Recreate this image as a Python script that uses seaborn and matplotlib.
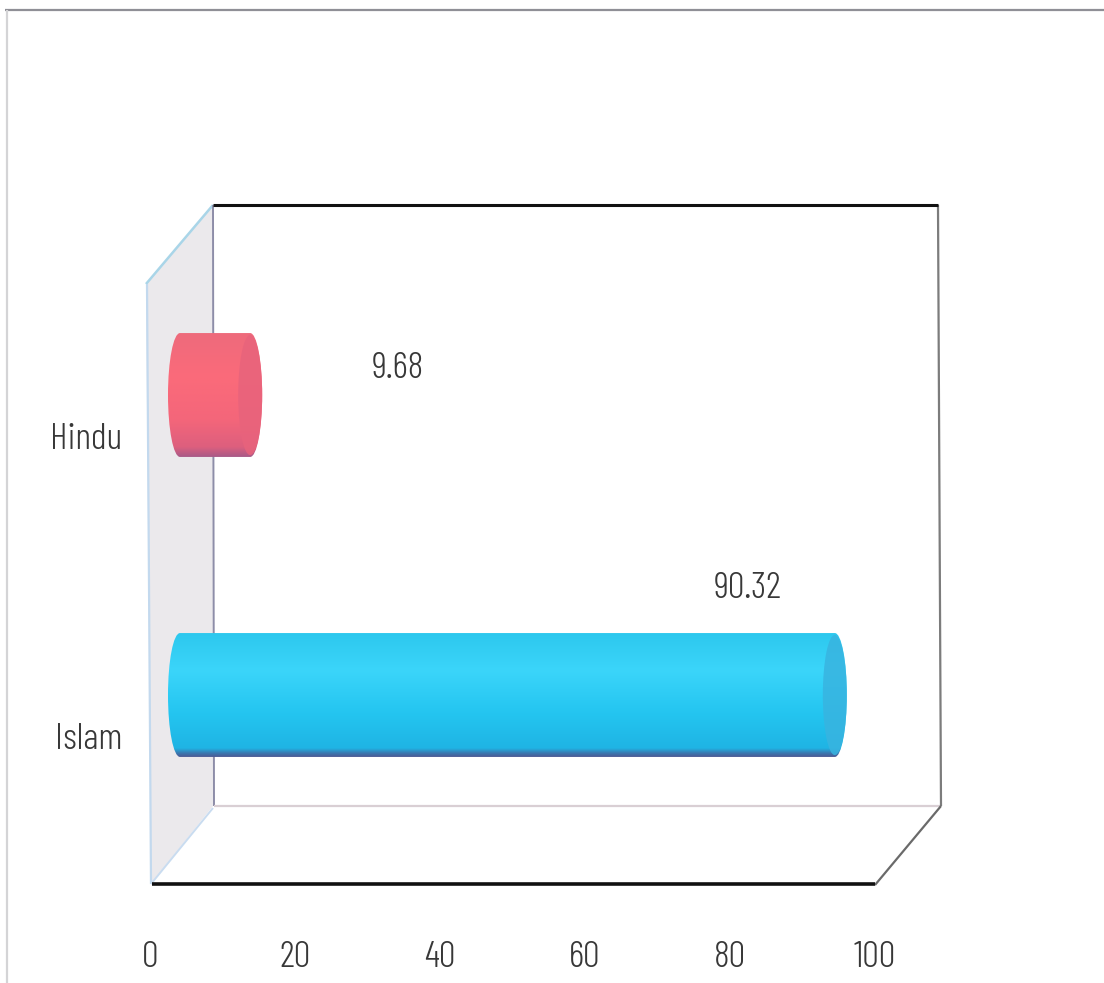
import matplotlib
matplotlib.use("Agg")
import matplotlib.pyplot as plt
import numpy as np
import pandas as pd
import seaborn as sns
from matplotlib.colors import LinearSegmentedColormap
from matplotlib.patches import Ellipse, PathPatch, Polygon
from matplotlib.path import Path
from matplotlib.transforms import ScaledTranslation

religions = ["Hindu", "Islam"]
shares = [9.68, 90.32]
value_ticks = [0, 20, 40, 60, 80, 100]

body_stops = {
    "Hindu": [(0, "#ee6a7c"), (0.35, "#fb6b7a"), (0.7, "#f4667a"), (0.92, "#dd5f7e"), (1, "#a85a88")],
    "Islam": [(0, "#2dc8ee"), (0.3, "#3bd5fa"), (0.65, "#24c5f0"), (0.93, "#1fb4e4"), (0.97, "#3a78b0"), (1, "#4c5a94")],
}
cap_colours = {"Hindu": "#e8637c", "Islam": "#38b4e0"}
label_offsets_px = {"Hindu": (148, -26), "Islam": (-87, -107)}

W, H = 1104, 983
TEXT = "#383838"
LABEL_SIZE = 27

sns.set_theme(style="white")
plt.rcParams["font.family"] = ["Barlow Condensed", "Liberation Sans"]
plt.rcParams["font.weight"] = 300


def px_axes(fig, left, top, right, bottom, zorder):
    a = fig.add_axes([left / W, 1 - bottom / H, (right - left) / W, (bottom - top) / H], zorder=zorder)
    a.patch.set_alpha(0)
    for s in a.spines.values():
        s.set_visible(False)
    return a


fig = plt.figure(figsize=(W / 100, H / 100), dpi=100, facecolor="white")

# Box outline of the pseudo-3D plot area, in pixel units
box = px_axes(fig, 0, 0, W, H, 0)
box.set_xlim(0, W)
box.set_ylim(H, 0)
box.axis("off")
box.add_patch(Polygon([(146, 284), (213, 205), (213, 806), (151, 884)], closed=True,
                      facecolor="#ebe9ec", edgecolor="none"))
segments = [
    ((5, 10), (1104, 10), "#8f8f96", 1.6),
    ((7, 10), (7, 983), "#d4d4d6", 1.6),
    ((146, 284), (213, 205), "#a9d5e8", 1.8),
    ((147, 284), (151, 884), "#c3d9ee", 1.6),
    ((151, 884), (213, 808), "#c9dcf0", 1.4),
    ((213, 205), (214, 806), "#8d8da8", 1.4),
    ((214, 806), (941, 806), "#d9cfd4", 1.6),
    ((938, 205), (941, 806), "#7c7c7c", 1.6),
    ((941, 806), (875, 885), "#6a6a6a", 1.6),
    ((213, 205), (938, 205), "#111111", 2.2),
    ((152, 884), (875, 884), "#111111", 2.6),
]
for (x0, y0), (x1, y1), colour, lw in segments:
    box.plot([x0, x1], [y0, y1], color=colour, lw=lw, solid_capstyle="butt")

# Front plane carries the axis labels
front = px_axes(fig, 150, 283, 875, 883, 1)
front.set_xlim(0, 100)
front.set_ylim(1.5, -0.5)
front.set_xticks(value_ticks)
front.set_xticklabels([str(v) for v in value_ticks])
front.set_yticks(range(len(religions)))
front.set_yticklabels(religions)
front.tick_params(axis="x", length=0, pad=41.5, labelsize=LABEL_SIZE, labelcolor=TEXT)
front.tick_params(axis="y", length=0, pad=20, labelsize=LABEL_SIZE, labelcolor=TEXT)
nudge = ScaledTranslation(0, -3 / 72 * 72 / 100, fig.dpi_scale_trans)
for tick_label in front.get_yticklabels():
    tick_label.set_transform(tick_label.get_transform() + nudge)

# Bars sit half way back in the box; the axis runs a little below zero to leave room for the rounded end
PX_PER_UNIT = 7.25
ORIGIN_PX = 180
LEFT_PX = 150
bars = px_axes(fig, LEFT_PX, 245, ORIGIN_PX + 100 * PX_PER_UNIT, 845, 2)
table = pd.DataFrame({"religion": religions, "share": shares})
sns.barplot(data=table, x="share", y="religion", orient="h", width=0.413,
            hue="religion", palette=cap_colours, legend=False, ax=bars)
xlim = (-(ORIGIN_PX - LEFT_PX) / PX_PER_UNIT, 100)
ylim = (1.5, -0.5)
bars.set_xticks([])
bars.set_yticks([])
bars.set_xlabel("")
bars.set_ylabel("")

cap_half = 12 / PX_PER_UNIT  # end-cap half width in value units
for patch, name, value in zip(bars.patches, religions, shares):
    top, height = patch.get_y(), patch.get_height()
    mid = top + height / 2
    patch.set_visible(False)
    k = 0.5523
    rx, ry = cap_half, height / 2
    verts = [
        (0, top), (value, top),
        (value + k * rx, top), (value + rx, mid - k * ry), (value + rx, mid),
        (value + rx, mid + k * ry), (value + k * rx, top + height), (value, top + height),
        (0, top + height),
        (-k * rx, top + height), (-rx, mid + k * ry), (-rx, mid),
        (-rx, mid - k * ry), (-k * rx, top), (0, top),
        (0, top),
    ]
    codes = [Path.MOVETO, Path.LINETO] + [Path.CURVE4] * 6 + [Path.LINETO] + [Path.CURVE4] * 6 + [Path.CLOSEPOLY]
    outline = PathPatch(Path(verts, codes), transform=bars.transData, facecolor="none", edgecolor="none")
    bars.add_patch(outline)
    cmap = LinearSegmentedColormap.from_list(name, body_stops[name])
    shade = np.linspace(0, 1, 256)[:, None]
    img = bars.imshow(shade, cmap=cmap, aspect="auto", interpolation="bilinear",
                      extent=(-rx, value + rx, top + height, top), zorder=3)
    img.set_clip_path(outline)
    bars.add_patch(Ellipse((value, mid), 2 * rx, height * 0.97, facecolor=cap_colours[name],
                           edgecolor="none", alpha=0.85, zorder=4))
    dx, dy = label_offsets_px[name]
    bars.annotate(f"{value:.2f}", xy=(value, mid), xytext=(dx * 0.72, -dy * 0.72),
                  textcoords="offset points", ha="center", va="center",
                  fontsize=LABEL_SIZE, color=TEXT, annotation_clip=False, zorder=5)
bars.set_xlim(*xlim)
bars.set_ylim(*ylim)

fig.savefig("out.png", dpi=100, facecolor="white")
